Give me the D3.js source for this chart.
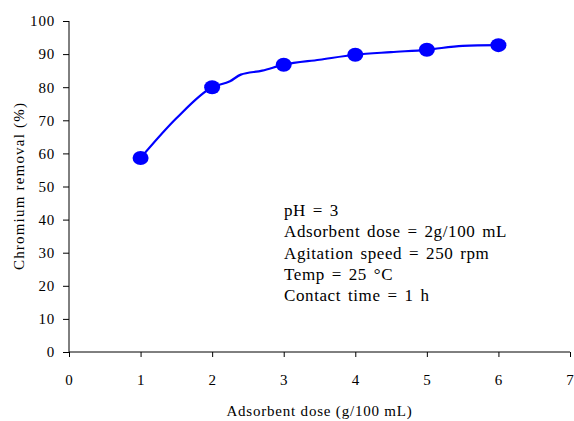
<!DOCTYPE html>
<html><head><meta charset="utf-8">
<script src="https://cdn.jsdelivr.net/npm/d3@7"></script>
<style>body{margin:0;background:#fff}svg{display:block}text{font-family:"Liberation Serif","Times New Roman",serif;fill:#000}</style>
</head><body>
<svg id="c" width="574" height="421"></svg>
<script>
const doses = [1, 2, 3, 4, 5, 6];
const removal = [58.6, 80.0, 86.8, 89.8, 91.3, 92.7];
const curveX = [1, 1.5, 2, 2.25, 2.4, 2.7, 3, 3.5, 4, 4.5, 5, 5.5, 6];
const curveY = [58.6, 70.6, 80.0, 81.8, 83.8, 85.0, 86.8, 88.3, 89.8, 90.6, 91.3, 92.5, 92.7];
const xTicks = [0, 1, 2, 3, 4, 5, 6, 7];
const yTicks = [0, 10, 20, 30, 40, 50, 60, 70, 80, 90, 100];
const notes = ["pH = 3", "Adsorbent dose = 2g/100 mL", "Agitation speed = 250 rpm", "Temp = 25 °C", "Contact time = 1 h"];

const svg = d3.select("#c");
const x = d3.scaleLinear().domain([0, 7]).range([69, 570]);
const y = d3.scaleLinear().domain([0, 100]).range([352, 21]);

const xa = svg.append("g").attr("transform", "translate(0,352)")
  .call(d3.axisBottom(x).tickValues(xTicks).tickFormat(d3.format("d")).tickSize(5).tickPadding(17));
const ya = svg.append("g").attr("transform", "translate(69,0)")
  .call(d3.axisLeft(y).tickValues(yTicks).tickFormat(d3.format("d")).tickSize(6).tickPadding(8));
[xa, ya].forEach(a => {
  a.select(".domain").attr("stroke", "#000").attr("stroke-width", 1);
  a.selectAll(".tick line").attr("stroke", "#000");
  a.selectAll(".tick text").style("font-size", "15px").style("letter-spacing", "0.8px")
    .style("font-family", '"Liberation Serif",serif').attr("fill", "#000");
});
xa.select(".domain").attr("d", "M69,0H570");
ya.select(".domain").attr("d", "M0,21V352");

const line = d3.line().x((d, i) => x(curveX[i])).y(d => y(d)).curve(d3.curveMonotoneX);
svg.append("path").datum(curveY).attr("d", line)
  .attr("fill", "none").attr("stroke", "#0000ff").attr("stroke-width", 2.2);

svg.selectAll("ellipse.pt").data(removal).enter().append("ellipse")
  .attr("cx", (d, i) => x(doses[i])).attr("cy", d => y(d))
  .attr("rx", 8).attr("ry", 7).attr("fill", "#0000ff");

svg.append("g").selectAll("text").data(notes).enter().append("text")
  .attr("x", 284).attr("y", (d, i) => 216 + i * 21.3)
  .style("font-size", "17px").style("letter-spacing", "0.6px").style("word-spacing", "2px").text(d => d);

svg.append("text").attr("x", 319.5).attr("y", 416).attr("text-anchor", "middle")
  .style("font-size", "15px").style("letter-spacing", "0.8px").text("Adsorbent dose (g/100 mL)");
svg.append("text").attr("transform", "translate(24,186) rotate(-90)").attr("text-anchor", "middle")
  .style("font-size", "15px").style("letter-spacing", "1.2px").text("Chromium removal (%)");
</script>
</body></html>
